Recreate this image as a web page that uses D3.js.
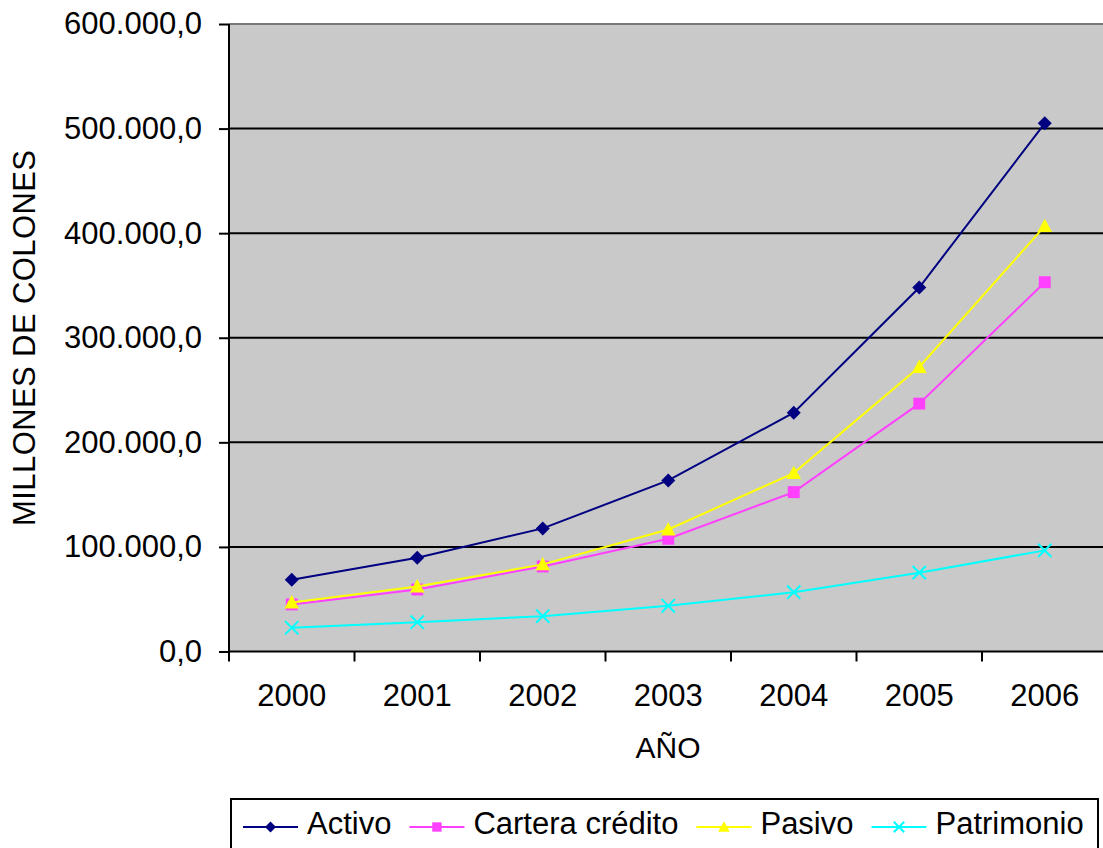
<!DOCTYPE html>
<html>
<head>
<meta charset="utf-8">
<script src="https://cdn.jsdelivr.net/npm/d3@7"></script>
<style>
  body { margin: 0; background: #fff; }
  text { font-family: "Liberation Sans", Arial, sans-serif; fill: #000; }
</style>
</head>
<body>
<svg id="chart" width="1103" height="848"></svg>
<script>
// Annual figures, millions of colones
const years = ["2000", "2001", "2002", "2003", "2004", "2005", "2006"];
const activo = [68600, 89700, 117700, 163600, 228400, 348000, 505000];
const carteraCredito = [45000, 59300, 81300, 107800, 152400, 237000, 353100];
const pasivo = [46900, 62200, 83300, 116700, 170600, 272100, 406700];
const patrimonio = [22700, 28000, 33800, 43700, 56700, 75400, 96700];
const yTicks = [0, 100000, 200000, 300000, 400000, 500000, 600000];

const series = [
  { name: "Activo", values: activo, color: "#000080", symbol: "diamond" },
  { name: "Cartera crédito", values: carteraCredito, color: "#ff40ff", symbol: "square" },
  { name: "Pasivo", values: pasivo, color: "#ffff00", symbol: "triangle" },
  { name: "Patrimonio", values: patrimonio, color: "#00ffff", symbol: "cross" }
];

const svg = d3.select("#chart");
const plotLeft = 229, plotTop = 24, plotBottom = 651.5, step = 125.5;
const plotRight = plotLeft + step * years.length;

const x = d3.scaleBand().domain(years).range([plotLeft, plotRight]);
const y = d3.scaleLinear().domain([0, 600000]).range([plotBottom, plotTop]);

const locale = d3.formatLocale({ decimal: ",", thousands: ".", grouping: [3], currency: ["", ""] });
const fmt = locale.format(",.1f");

// plot area
svg.append("rect")
  .attr("x", plotLeft).attr("y", plotTop)
  .attr("width", plotRight - plotLeft).attr("height", plotBottom - plotTop)
  .attr("fill", "#c9c9c9");

// horizontal gridlines
svg.append("g").selectAll("line")
  .data(yTicks.filter(d => d > 0))
  .join("line")
  .attr("x1", plotLeft).attr("x2", plotRight)
  .attr("y1", d => y(d)).attr("y2", d => y(d))
  .attr("stroke", d => d === 600000 ? "#777" : "#000")
  .attr("stroke-width", 2);

// y axis
const yAxis = svg.append("g")
  .attr("transform", `translate(${plotLeft},0)`)
  .call(d3.axisLeft(y).tickValues(yTicks).tickFormat(fmt).tickSize(10).tickPadding(17));
yAxis.select(".domain").remove();
yAxis.selectAll(".tick line").attr("stroke", "#000").attr("stroke-width", 2);
yAxis.selectAll(".tick text").attr("font-size", 31).attr("font-family", "Liberation Sans, Arial, sans-serif");
svg.append("line")
  .attr("x1", plotLeft).attr("x2", plotLeft)
  .attr("y1", plotTop).attr("y2", plotBottom + 10)
  .attr("stroke", "#000").attr("stroke-width", 2);

// x axis
svg.append("line")
  .attr("x1", plotLeft).attr("x2", plotRight)
  .attr("y1", plotBottom).attr("y2", plotBottom)
  .attr("stroke", "#000").attr("stroke-width", 2);
const xAxis = svg.append("g")
  .attr("transform", `translate(0,${plotBottom})`)
  .call(d3.axisBottom(x).tickSize(0).tickPadding(32));
xAxis.select(".domain").remove();
xAxis.selectAll(".tick text").attr("font-size", 31).attr("font-family", "Liberation Sans, Arial, sans-serif");
svg.append("g").selectAll("line")
  .data(years.slice(1))
  .join("line")
  .attr("x1", d => x(d)).attr("x2", d => x(d))
  .attr("y1", plotBottom).attr("y2", plotBottom + 10)
  .attr("stroke", "#000").attr("stroke-width", 2);

// axis titles
svg.append("text")
  .attr("x", 668).attr("y", 758)
  .attr("text-anchor", "middle")
  .attr("font-size", 30)
  .text("AÑO");
svg.append("text")
  .attr("transform", `translate(24,${(plotTop + plotBottom) / 2}) rotate(-90)`)
  .attr("text-anchor", "middle")
  .attr("dy", "0.36em")
  .attr("font-size", 31)
  .attr("letter-spacing", 0.4)
  .text("MILLONES DE COLONES");

// marker shapes
function marker(sel, s, size) {
  const h = size / 2;
  if (s.symbol === "diamond") {
    sel.append("path").attr("d", `M0,${-h}L${h},0L0,${h}L${-h},0Z`).attr("fill", s.color);
  } else if (s.symbol === "square") {
    const q = h * 0.85;
    sel.append("rect").attr("x", -q).attr("y", -q).attr("width", 2 * q).attr("height", 2 * q).attr("fill", s.color);
  } else if (s.symbol === "triangle") {
    sel.append("path").attr("d", `M0,${-h * 1.05}L${h * 1.05},${h * 0.85}L${-h * 1.05},${h * 0.85}Z`).attr("fill", s.color);
  } else {
    const c = h * 0.95;
    sel.append("path").attr("d", `M${-c},${-c}L${c},${c}M${-c},${c}L${c},${-c}`)
      .attr("stroke", s.color).attr("stroke-width", 2).attr("fill", "none");
  }
}

// series lines and markers
const line = d3.line()
  .x((d, i) => x(years[i]) + x.bandwidth() / 2)
  .y(d => y(d));

series.forEach(s => {
  svg.append("path")
    .datum(s.values)
    .attr("d", line)
    .attr("fill", "none")
    .attr("stroke", s.color)
    .attr("stroke-width", 2);
  svg.append("g").selectAll("g")
    .data(s.values)
    .join("g")
    .attr("transform", (d, i) => `translate(${x(years[i]) + x.bandwidth() / 2},${y(d)})`)
    .each(function () { marker(d3.select(this), s, 14); });
});

// legend
svg.append("rect")
  .attr("x", 231).attr("y", 799)
  .attr("width", 867).attr("height", 70)
  .attr("fill", "#fff").attr("stroke", "#000").attr("stroke-width", 2);
let lx = 243;
const ly = 827;
series.forEach(s => {
  const g = svg.append("g");
  g.append("line")
    .attr("x1", lx).attr("x2", lx + 55)
    .attr("y1", ly).attr("y2", ly)
    .attr("stroke", s.color).attr("stroke-width", 2);
  const m = g.append("g").attr("transform", `translate(${lx + 27.5},${ly})`);
  marker(m, s, 11);
  const t = g.append("text")
    .attr("x", lx + 64).attr("y", 834)
    .attr("font-size", 31)
    .text(s.name);
  lx = lx + 64 + t.node().getComputedTextLength() + 18;
});
</script>
</body>
</html>
